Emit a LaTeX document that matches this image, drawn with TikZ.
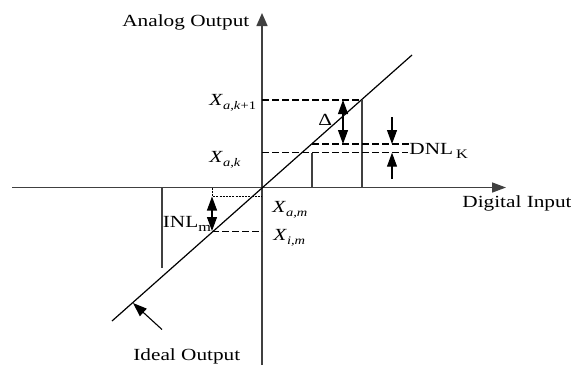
\documentclass[tikz,border=0pt]{standalone}
\usepackage{fontspec}
\setmainfont[FakeStretch=1.25]{Liberation Serif}
\usepackage{tikz}
\usetikzlibrary{arrows.meta,positioning,calc}

\newcommand{\lowsub}[2][5.8]{\raisebox{-2pt}{\fontsize{#1}{7}\selectfont #2}}

\tikzset{
    axisline/.style={line width=0.75pt, black!75},
    stepline/.style={line width=0.7pt, black!75},
    idealline/.style={line width=0.6pt, black},
    guide/.style={line width=0.55pt, dash pattern=on 3.3pt off 1.7pt},
    fineguide/.style={line width=0.45pt, dash pattern=on 1pt off 0.6pt},
    marker/.style={line width=0.55pt, -{Triangle[length=7pt,width=5pt]}},
    lbl/.style={inner sep=0pt, anchor=base west, font=\fontsize{8.5}{10}\selectfont}
}

\begin{document}
\begin{tikzpicture}[x=0.5pt,y=-0.5pt]
    \useasboundingbox (0,0) rectangle (571,365);

    % Axes
    \coordinate (O) at (262,187.5);
    \coordinate (xleft) at (12,187.5);
    \coordinate (xright) at (506,187.5);
    \coordinate (ybottom) at (262,365);
    \coordinate (ytop) at (262,13);
    \draw[axisline,-{Triangle[length=7pt,width=5pt]}] (xleft) -- (xright);
    \draw[axisline,-{Triangle[length=6.5pt,width=5.5pt]}] (ybottom) -- (ytop);
    \node[lbl] (aout) at (122,26) {Analog Output};
    \node[lbl] (din) at (462,207) {Digital Input};

    % Ideal transfer line
    \coordinate (ideallo) at (112,321);
    \coordinate (idealhi) at (412,55);
    \draw[idealline] (ideallo) -- (idealhi);

    % Actual output steps
    \foreach \x/\y in {162/267.5, 312/152.7, 362/100} {
        \draw[stepline] (\x,187.5) -- (\x,\y);
    }

    % Level guides
    \coordinate (kp1) at (362,100);
    \coordinate (kk) at (408,152.7);
    \coordinate (kideal) at (312,144);
    \coordinate (kidealr) at (412,144);
    \coordinate (mideal) at (212,231.7);
    \coordinate (mact) at (212,196);
    \draw[guide] (O |- kp1) -- (kp1);
    \draw[guide] (O |- kk) -- (kk);
    \draw[guide] (kideal) -- (kidealr);
    \draw[guide] (mideal) -- (O |- mideal);
    \draw[fineguide] (mact |- O) -- (mact) -- (O |- mact);

    % Delta
    \coordinate (dtop) at (343,100);
    \coordinate (dbot) at (343,144);
    \draw[marker,{Triangle[length=7pt,width=5pt]}-{Triangle[length=7pt,width=5pt]}] (dtop) -- (dbot);
    \node[lbl] (delta) at (318,125.7) {Δ};

    % DNL
    \coordinate (dnlup) at (392,117);
    \coordinate (dnlupend) at (392,144);
    \coordinate (dnldn) at (392,179);
    \coordinate (dnldnend) at (392,152.7);
    \draw[marker] (dnlup) -- (dnlupend);
    \draw[marker] (dnldn) -- (dnldnend);
    \node[lbl] (dnl) at (409,154.3) {DNL\hspace{1.5pt}\lowsub[6.5]{K}};

    % INL
    \coordinate (inltop) at (212,196.5);
    \coordinate (inlbot) at (212,231);
    \draw[marker,{Triangle[length=7pt,width=5pt]}-{Triangle[length=7pt,width=5pt]}] (inltop) -- (inlbot);
    \node[lbl] (inl) at (162.5,227.3) {INL\raisebox{-2.3pt}{\fontsize{6.5}{7}\selectfont m}};

    % Level labels
    \node[lbl] (xakp) at (209,105) {\textit{X}\lowsub{\textit{a,k}+1}};
    \node[lbl] (xak) at (209,162.3) {\textit{X}\lowsub{\textit{a,k}}};
    \node[lbl] (xam) at (272,212.3) {\textit{X}\lowsub{\textit{a,m}}};
    \node[lbl] (xim) at (273,240.7) {\textit{X}\lowsub{\textit{i,m}}};

    % Ideal output pointer
    \coordinate (ipfrom) at (162,329.5);
    \coordinate (ipto) at (133,303);
    \draw[marker] (ipfrom) -- (ipto);
    \node[lbl] (iout) at (133,360) {Ideal Output};
\end{tikzpicture}
\end{document}
